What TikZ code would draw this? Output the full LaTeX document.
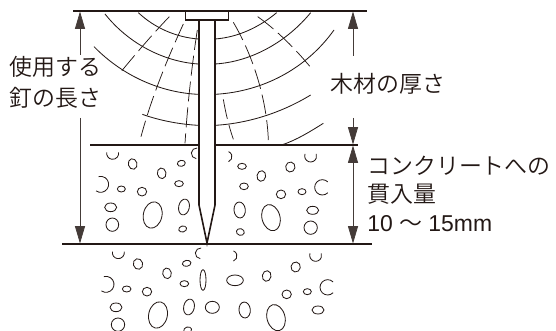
\documentclass[tikz,border=0pt]{standalone}
\usepackage{fontspec}
\usetikzlibrary{arrows.meta}
\setmainfont{Liberation Sans}
\newfontfamily\jpfont{Noto Sans CJK JP DemiLight}
\definecolor{ink}{HTML}{231815}
\newcommand{\bub}[6][]{\draw[thinline,rotate around={#6:(#2,#3)}] (#2,#3) ellipse [x radius=#4*0.25pt,y radius=#5*0.25pt];}
\newcommand{\hook}[5]{\draw[thinline] (#1,#2) ++(#4:#3*0.25pt) arc [start angle=#4,end angle=#5,radius=#3*0.25pt];}
\tikzset{
  thinline/.style={draw=ink,line width=0.62pt},
  heavyline/.style={draw=ink,line width=1.05pt},
  nailline/.style={draw=ink,line width=1.2pt,line join=miter},
  dimline/.style={draw=ink!85,line width=0.55pt,-{Triangle[length=13pt,width=7.5pt]}},
  dimboth/.style={draw=ink!85,line width=0.55pt,{Triangle[length=13pt,width=7.5pt]}-{Triangle[length=13pt,width=7.5pt]}},
  graindash/.style={draw=ink,line width=0.55pt,dash pattern=on 15pt off 4.5pt},
  lbl/.style={text=ink,inner sep=0pt,anchor=base west,font=\fontsize{17.2pt}{20pt}\selectfont\jpfont},
  lblnum/.style={text=ink,inner sep=0pt,anchor=base west,font=\fontsize{17.2pt}{20pt}\selectfont}
}
\begin{document}
\begin{tikzpicture}[x=0.75pt,y=-0.75pt]
\useasboundingbox (0,0) rectangle (556,331);
\fill[white] (0,0) rectangle (556,331);
\clip (0,0) rectangle (556,331);
% surfaces
\coordinate (topL) at (73,11); \coordinate (topR) at (367,11);
\coordinate (midL) at (90,145); \coordinate (midR) at (358,145);
\coordinate (botL) at (62,244); \coordinate (botR) at (372,244);
\draw[heavyline] (topL) -- (topR);
\draw[heavyline] (midL) -- (199,145) (215,145) -- (midR);
\draw[heavyline] (botL) -- (botR);
% grain and aggregate, in zoom-grid coordinates
\begin{scope}[shift={(80,0)},x=0.25pt,y=-0.25pt]
\draw[thinline] (175,38) .. controls (225,85) and (290,112) .. (355,117);
\draw[thinline] (405,117) .. controls (475,112) and (540,80) .. (590,38);
\draw[thinline] (75,42) .. controls (145,130) and (250,185) .. (355,192);
\draw[thinline] (405,192) .. controls (520,185) and (625,120) .. (692,38);
\draw[thinline] (42,140) .. controls (130,230) and (245,278) .. (355,283);
\draw[thinline] (405,283) .. controls (550,275) and (680,205) .. (762,90);
\draw[thinline] (187,343) .. controls (240,362) and (300,373) .. (355,376);
\draw[thinline] (405,376) .. controls (510,370) and (610,335) .. (692,285);
\draw[thinline] (605,435) .. controls (650,420) and (690,395) .. (730,370);
\draw[graindash] (268,50) .. controls (215,105) and (160,170) .. (115,225);
\draw[graindash] (310,72) .. controls (265,170) and (215,290) .. (183,410);
\draw[graindash] (352,90) .. controls (335,200) and (322,320) .. (315,430);
\draw[graindash] (533,50) .. controls (590,90) and (650,150) .. (700,212);
\draw[graindash] (460,67) .. controls (515,160) and (560,290) .. (565,420);
\draw[graindash] (430,298) .. controls (437,340) and (447,380) .. (460,418);
\end{scope}
\begin{scope}[shift={(80,140)},x=0.25pt,y=-0.25pt]
\hook{98}{40}{18}{170}{370}
\hook{62}{133}{24}{-125}{105}
\hook{350}{40}{16}{85}{265}
\hook{440}{50}{16}{-70}{70}
\hook{692}{48}{18}{160}{380}
\hook{727}{142}{23}{45}{315}
\bub{158}{72}{13}{16}{15}
\bub{245}{100}{13}{16}{10}
\bub{304}{70}{12}{9}{10}
\bub{297}{131}{13}{9}{0}
\bub{124}{147}{12}{9}{0}
\bub{186}{155}{14}{13}{0}
\bub{92}{202}{18}{13}{0}
\bub{97}{254}{19}{20}{0}
\bub{218}{225}{28}{40}{-12}
\bub{312}{201}{16}{24}{-12}
\bub{308}{267}{12}{9}{15}
\bub{486}{79}{13}{9}{0}
\bub{631}{81}{14}{15}{-10}
\bub{544}{108}{13}{16}{-10}
\bub{492}{139}{13}{10}{0}
\bub{603}{163}{14}{13}{0}
\bub{666}{155}{12}{9}{0}
\bub{479}{210}{17}{24}{5}
\bub{573}{233}{27}{40}{15}
\bub{698}{211}{18}{12}{0}
\bub{692}{263}{20}{20}{0}
\bub{481}{276}{12}{10}{-15}
\end{scope}
\begin{scope}[shift={(80,240)},x=0.25pt,y=-0.25pt]
\hook{115}{38}{18}{170}{370}
\hook{78}{133}{24}{-125}{105}
\hook{362}{40}{16}{85}{265}
\hook{455}{48}{16}{-70}{70}
\hook{707}{46}{18}{160}{380}
\hook{743}{142}{23}{45}{315}
\bub{174}{72}{14}{16}{15}
\bub{261}{100}{13}{16}{10}
\bub{320}{70}{13}{9}{10}
\bub{313}{131}{13}{9}{0}
\bub{140}{147}{13}{9}{0}
\bub{201}{155}{14}{13}{0}
\bub{108}{202}{18}{13}{0}
\bub{114}{254}{20}{20}{0}
\bub{234}{225}{28}{40}{-12}
\bub{327}{201}{16}{24}{-12}
\bub{397}{202}{21}{18}{0}
\bub{369}{120}{9}{31}{0}
\bub{465}{121}{25}{16}{0}
\bub{560}{108}{13}{16}{-10}
\bub{647}{81}{14}{15}{-10}
\bub{494}{210}{17}{24}{5}
\bub{588}{233}{27}{40}{15}
\bub{620}{163}{14}{13}{0}
\bub{682}{155}{12}{9}{0}
\bub{714}{210}{18}{12}{0}
\bub{323}{270}{12}{9}{15}
\end{scope}
% nail
\filldraw[nailline,fill=white] (199,20) -- (199,205) -- (207,243) -- (215,205) -- (215,20);
\draw[nailline] (199,20) -- (215,20);
\filldraw[nailline,line width=0.9pt,fill=white] (185.7,11) rectangle (228.3,20);
% labels
\node[lbl] (nail1) at (9,76) {使用する};
\node[lbl] (nail2) at (9,107) {釘の長さ};
\node[lbl] (wood) at (330,93) {木材の厚さ};
\node[lbl] (conc1) at (367,175) {コンクリートへの};
\node[lbl] (conc2) at (367,203) {貫入量};
\node[lblnum] (conc3) at (367,232) {10 {\jpfont ～} 15mm};
% dimension arrows
\coordinate (a1) at (80,55); \coordinate (a1e) at (80,11.5);
\coordinate (a2) at (80,118); \coordinate (a2e) at (80,243.5);
\coordinate (b1) at (353,56); \coordinate (b1e) at (353,11.5);
\coordinate (b2) at (353,118); \coordinate (b2e) at (353,144.5);
\coordinate (c1) at (353,145.5); \coordinate (c2) at (353,243.5);
\draw[dimline] (a1) -- (a1e);
\draw[dimline] (a2) -- (a2e);
\draw[dimline] (b1) -- (b1e);
\draw[dimline] (b2) -- (b2e);
\draw[dimboth] (c1) -- (c2);
\end{tikzpicture}
\end{document}
